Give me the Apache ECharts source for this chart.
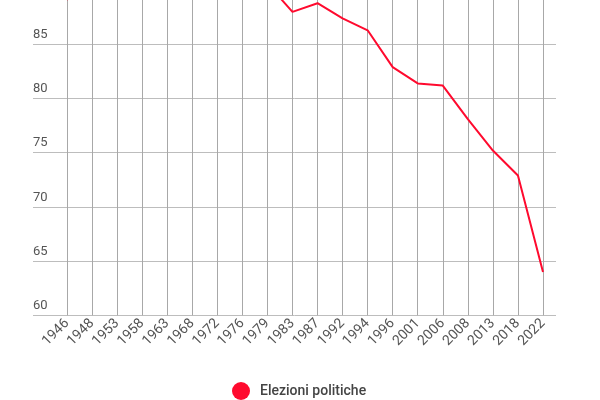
<!DOCTYPE html>
<html>
<head>
<meta charset="utf-8">
<script src="https://cdn.jsdelivr.net/npm/echarts@6/dist/echarts.min.js"></script>
<style>
  html, body { margin: 0; padding: 0; background: #fff; }
  #frame { width: 600px; height: 400px; overflow: hidden; position: relative; }
  /* il grafico originale e' tagliato in alto: il canvas parte sopra il bordo */
  #chart { width: 600px; height: 464px; position: absolute; left: 0; top: -64px; }
</style>
</head>
<body>
<div id="frame"><div id="chart"></div></div>
<script>
// anni delle elezioni politiche
var years = ['1946', '1948', '1953', '1958', '1963', '1968', '1972', '1976', '1979', '1983',
             '1987', '1992', '1994', '1996', '2001', '2006', '2008', '2013', '2018', '2022'];
// affluenza (%)
var turnout = [89.1, 92.2, 93.8, 93.8, 92.9, 92.8, 93.2, 93.4, 90.6, 88.0,
               88.8, 87.4, 86.3, 82.9, 81.4, 81.2, 78.1, 75.2, 72.9, 64.0];
var seriesName = 'Elezioni politiche';
var yMin = 60, yMax = 95, yStep = 5;

var chart = echarts.init(document.getElementById('chart'));

var gridTop = 0, gridBottom = 84.7;

var option = {
    backgroundColor: '#fff',
    animation: false,
    textStyle: { fontFamily: 'Roboto' },
    legend: {
        top: 441,
        left: 227,
        icon: 'circle',
        itemWidth: 18,
        itemHeight: 18,
        itemGap: 10,
        textStyle: { fontSize: 14, color: '#444', fontFamily: 'Roboto', fontWeight: 500, padding: [0, 0, 0, 5] },
        data: [seriesName]
    },
    grid: [
        // griglia larga: solo linee orizzontali ed etichette dell'asse y
        { left: 33, right: 44, top: gridTop, bottom: gridBottom, outerBoundsMode: 'none', containLabel: false },
        // griglia della serie e delle categorie
        { left: 67, right: 57, top: gridTop, bottom: gridBottom, outerBoundsMode: 'none', containLabel: false }
    ],
    xAxis: [
        { gridIndex: 0, type: 'value', show: false },
        {
            gridIndex: 1,
            type: 'category',
            data: years,
            boundaryGap: false,
            axisLine: { show: false },
            axisTick: { show: false },
            axisLabel: {
                rotate: 45,
                margin: 6,
                fontSize: 14,
                color: '#555',
                interval: 0
            },
            splitLine: { show: true, lineStyle: { color: '#a8a8a8', width: 1 } }
        }
    ],
    yAxis: [
        {
            gridIndex: 0,
            type: 'value',
            min: yMin,
            max: yMax,
            interval: yStep,
            axisLine: { show: false },
            axisTick: { show: false },
            axisLabel: {
                inside: true,
                margin: 0,
                verticalAlign: 'bottom',
                padding: [0, 0, 3, 0],
                fontSize: 13,
                color: '#555'
            },
            splitLine: { show: true, lineStyle: { color: '#bdbdbd', width: 1 } }
        },
        {
            gridIndex: 1,
            type: 'value',
            min: yMin,
            max: yMax,
            interval: yStep,
            show: false
        }
    ],
    series: [
        {
            name: seriesName,
            type: 'line',
            xAxisIndex: 1,
            yAxisIndex: 1,
            data: turnout,
            symbol: 'none',
            color: '#ff0a2e',
            lineStyle: { color: '#ff0a2e', width: 2 }
        }
    ]
};

chart.setOption(option);
</script>
</body>
</html>
